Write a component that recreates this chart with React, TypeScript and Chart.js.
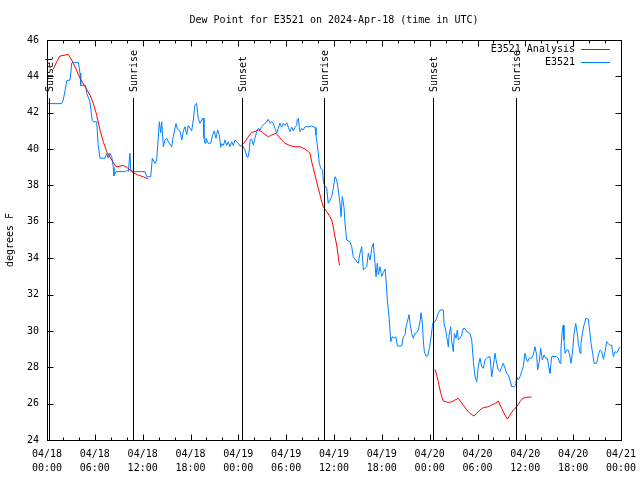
import React, { useEffect, useRef } from "react";
import { Chart, registerables } from "chart.js";

Chart.register(...registerables);

// Hours since 2024-04-18 00:00 UTC
const obsHours = [
  0.16, 1.84, 2.04, 2.26, 2.47, 2.89, 3.1, 3.17, 3.93, 4.14, 4.23, 4.85, 4.98, 5.39, 5.68, 5.81, 6.23, 6.43, 6.65, 7.28,
  7.49, 7.69, 7.9, 8.12, 8.32, 8.4, 8.66, 9.78, 10.0, 10.2, 10.41, 10.5, 10.83, 12.29, 12.51, 13.01, 13.21, 13.55, 13.76, 14.09,
  14.26, 14.39, 14.59, 14.8, 15.02, 15.22, 15.64, 15.84, 16.18, 16.35, 16.68, 16.9, 17.1, 17.31, 17.52, 17.72, 18.15, 18.35, 18.56, 18.77,
  18.97, 19.19, 19.53, 19.6, 19.69, 19.82, 19.94, 20.23, 20.53, 20.78, 20.98, 21.2, 21.41, 21.61, 21.79, 21.91, 22.12, 22.33, 22.54, 22.74,
  22.96, 23.17, 23.37, 23.58, 23.8, 24.0, 24.21, 24.55, 24.84, 25.05, 25.21, 25.38, 25.47, 25.68, 25.88, 26.09, 26.3, 26.51, 26.72, 26.93,
  27.34, 27.56, 27.76, 27.97, 28.18, 28.38, 28.6, 28.81, 29.01, 29.22, 29.43, 29.64, 29.85, 30.07, 30.27, 30.48, 30.7, 30.9, 31.11, 31.32,
  31.4, 31.53, 31.65, 31.74, 31.95, 32.15, 32.36, 32.78, 33.2, 33.41, 33.62, 33.74, 33.91, 34.03, 34.16, 34.33, 34.58, 34.66, 34.87, 35.08,
  35.28, 35.5, 35.71, 35.91, 36.12, 36.33, 36.54, 36.75, 36.88, 37.04, 37.25, 37.38, 37.59, 38.0, 38.22, 38.42, 38.85, 39.05, 39.26, 39.48,
  39.68, 40.1, 40.31, 40.52, 40.73, 40.93, 41.14, 41.27, 41.43, 41.56, 41.77, 41.99, 42.19, 42.4, 42.53, 42.69, 42.94, 43.12, 43.32, 43.53,
  43.75, 43.95, 44.5, 44.7, 44.91, 45.04, 45.2, 45.42, 45.54, 45.75, 45.95, 46.16, 46.37, 46.58, 46.79, 46.92, 47.08, 47.2, 47.33, 47.54,
  47.75, 47.96, 48.13, 48.33, 48.46, 48.67, 48.88, 49.08, 49.3, 49.71, 49.8, 50.01, 50.14, 50.34, 50.43, 50.64, 50.77, 50.97, 51.1, 51.31,
  51.47, 51.6, 51.81, 52.02, 52.22, 52.44, 52.65, 53.06, 53.28, 53.48, 53.69, 53.9, 54.1, 54.31, 54.53, 54.73, 54.94, 55.15, 55.57, 55.78,
  55.98, 56.2, 56.41, 56.61, 56.82, 57.03, 57.23, 57.45, 57.66, 57.86, 58.07, 58.29, 58.57, 58.79, 58.91, 59.12, 59.33, 59.54, 59.74, 59.96,
  60.17, 60.29, 60.49, 60.79, 60.99, 61.21, 61.42, 61.54, 61.75, 61.92, 62.13, 62.34, 62.55, 62.76, 62.97, 63.09, 63.31, 63.93, 64.14, 64.35,
  64.47, 64.64, 64.76, 64.85, 64.98, 65.19, 65.39, 65.6, 65.73, 65.94, 66.11, 66.32, 66.52, 66.65, 66.86, 66.98, 67.15, 67.36, 67.61, 67.9,
  68.11, 68.24, 68.45, 68.62, 68.95, 69.16, 69.37, 69.58, 69.79, 70.0, 70.21, 70.41, 70.62, 70.83, 71.04, 71.25, 71.46, 71.67, 71.88,
];
const obsDewF = [
  42.5, 42.5, 42.7, 43.2, 43.76, 43.8, 44.7, 44.77, 44.77, 44.17, 43.5, 43.5, 43.07, 42.6, 41.56, 41.5, 41.5, 40.2, 39.5, 39.5,
  39.77, 39.5, 39.77, 39.58, 39.0, 38.54, 38.76, 38.76, 38.85, 38.76, 39.77, 38.85, 38.76, 38.76, 38.48, 38.48, 39.5, 39.2, 39.4, 41.5,
  40.9, 41.5, 40.13, 40.5, 40.6, 40.4, 40.13, 40.7, 41.4, 41.1, 41.0, 40.5, 41.0, 41.23, 40.8, 41.3, 41.0, 41.6, 42.43, 42.52,
  41.7, 41.42, 41.7, 41.7, 40.6, 40.32, 40.6, 40.32, 40.32, 40.77, 41.0, 40.6, 41.05, 40.8, 40.1, 40.3, 40.2, 40.5, 40.2, 40.4,
  40.13, 40.4, 40.2, 40.5, 40.4, 40.32, 40.17, 40.17, 39.95, 39.58, 39.55, 39.95, 40.5, 40.55, 40.22, 40.6, 40.96, 41.14, 41.05, 41.23,
  41.42, 41.5, 41.64, 41.42, 41.5, 41.42, 41.14, 40.87, 41.14, 41.42, 41.2, 41.42, 41.3, 41.45, 41.2, 40.96, 41.2, 41.0, 41.2, 41.3,
  41.64, 41.7, 41.2, 40.96, 41.14, 41.05, 41.23, 41.23, 41.27, 41.23, 41.2, 40.77, 40.22, 39.77, 39.22, 38.94, 38.85, 38.2, 37.93, 37.9,
  37.02, 37.2, 37.38, 37.84, 38.48, 38.3, 37.75, 37.02, 36.28, 37.38, 36.83, 35.92, 35.0, 34.9, 34.63, 34.08, 33.81, 33.72, 34.27, 34.63,
  33.35, 33.53, 34.27, 33.9, 34.54, 34.82, 33.72, 32.98, 33.72, 33.1, 33.53, 33.0, 33.2, 33.4, 32.8, 31.7, 30.6, 29.41, 29.68, 29.6,
  29.68, 29.17, 29.17, 29.68, 29.77, 30.23, 30.5, 30.9, 30.41, 29.86, 29.59, 29.86, 29.9, 30.05, 30.5, 31.0, 30.41, 29.5, 28.86, 28.62,
  28.62, 29.04, 29.5, 30.23, 30.5, 30.5, 30.69, 30.97, 31.15, 31.15, 30.41, 30.05, 29.68, 29.13, 29.77, 30.23, 29.41, 28.86, 29.86, 29.6,
  30.05, 29.5, 29.6, 29.77, 30.14, 30.14, 29.96, 29.86, 29.5, 28.31, 27.48, 27.21, 28.04, 28.5, 28.04, 27.94, 28.4, 28.5, 28.59, 27.48,
  28.04, 28.77, 28.2, 27.85, 27.76, 28.0, 28.22, 27.95, 27.67, 27.57, 27.3, 26.93, 26.93, 27.02, 27.48, 27.3, 27.48, 27.76, 28.04, 28.77,
  28.4, 28.31, 28.5, 28.5, 28.68, 29.13, 28.68, 27.85, 28.31, 29.04, 28.4, 28.68, 28.5, 28.5, 27.94, 27.67, 28.59, 28.59, 28.5, 28.22,
  29.04, 30.05, 30.32, 29.5, 28.77, 28.95, 28.95, 28.59, 28.22, 28.95, 29.86, 30.41, 29.86, 29.31, 28.77, 29.31, 29.86, 30.32, 30.69, 30.64,
  29.86, 29.31, 28.77, 28.22, 28.22, 28.68, 28.95, 28.86, 28.44, 28.86, 29.41, 29.3, 29.2, 29.22, 28.59, 28.86, 28.8, 28.95, 29.13,
];

// Analysis series (null = gap between analysis runs)
const anaHours = [
  0.79, 1.22, 1.63, 2.26, 2.67, 3.1, 3.51, 4.14, 4.77, 5.39, 5.81, 6.23, 6.65, 7.06, 7.49, 8.12, 8.66, 9.03, 9.57, 10.0,
  10.41, 10.83, 11.45, 12.08, 12.71, 18.0,
  24.42, 24.84, 25.25, 25.68, 26.09, 26.51, 26.93, 27.34, 27.76, 28.18, 28.73, 29.44, 29.85, 30.48, 31.11, 31.74, 32.36, 32.78, 32.99, 33.2,
  33.41, 33.62, 33.83, 34.03, 34.25, 34.46, 34.66, 34.87, 35.08, 35.5, 35.71, 35.91, 36.12, 36.33, 36.54, 36.68, 42.0,
  48.67, 48.88, 49.08, 49.3, 49.51, 49.71, 50.34, 50.77, 51.18, 51.6, 52.22, 52.65, 53.06, 53.56, 53.9, 54.31, 54.73, 55.36, 55.78, 56.2,
  56.61, 57.03, 57.45, 57.74, 58.07, 58.49, 58.91, 59.33, 59.67, 60.17, 60.79,
];
const anaDewF: (number | null)[] = [
  44.39, 44.81, 45.12, 45.17, 45.21, 44.9, 44.53, 43.9, 43.43, 42.97, 42.52, 41.87, 41.05, 40.41, 39.86, 39.4, 39.03, 39.05, 39.1, 39.0,
  38.85, 38.7, 38.57, 38.48, 38.35, null,
  40.22, 40.4, 40.68, 40.92, 40.96, 41.05, 40.96, 40.81, 40.68, 40.77, 40.87, 40.5, 40.32, 40.19, 40.13, 40.13, 40.0, 39.86, 39.77, 39.3,
  38.94, 38.57, 38.2, 37.84, 37.47, 37.1, 36.83, 36.69, 36.56, 36.28, 36.1, 35.73, 35.18, 34.73, 34.08, 33.62, null,
  27.88, 27.57, 27.21, 26.75, 26.38, 26.14, 26.07, 26.1, 26.2, 26.29, 25.92, 25.65, 25.46, 25.32, 25.46, 25.65, 25.78, 25.83, 25.92, 26.01,
  26.14, 25.74, 25.37, 25.15, 25.37, 25.65, 25.83, 26.1, 26.29, 26.35, 26.36,
];

const eventHours = [0.3, 10.85, 24.4, 34.8, 48.36, 58.8];
const eventLabels = ["Sunset", "Sunrise", "Sunset", "Sunrise", "Sunset", "Sunrise"];

const xTickDates = ["04/18", "04/18", "04/18", "04/18", "04/19", "04/19", "04/19", "04/19", "04/20", "04/20", "04/20", "04/20", "04/21"];
const xTickTimes = ["00:00", "06:00", "12:00", "18:00", "00:00", "06:00", "12:00", "18:00", "00:00", "06:00", "12:00", "18:00", "00:00"];

const titleText = "Dew Point for E3521 on 2024-Apr-18 (time in UTC)";
const seriesNames = ["E3521 Analysis", "E3521"];
const seriesColors = ["#ff0000", "#0080ff"];

const FONT = "10px 'DejaVu Sans Mono', monospace";

const decorPlugin = {
  id: "decor",
  afterDatasetsDraw(chart: any) {
    const { ctx, chartArea: a, scales } = chart;
    const xs = scales.x;
    const ys = scales.y;
    ctx.save();
    // event lines
    ctx.strokeStyle = "#000";
    ctx.lineWidth = 1;
    ctx.fillStyle = "#000";
    ctx.font = FONT;
    eventHours.forEach((h, i) => {
      const x = Math.round(xs.getPixelForValue(h)) + 0.5;
      ctx.beginPath();
      ctx.moveTo(x, 98);
      ctx.lineTo(x, a.bottom);
      ctx.stroke();
      ctx.save();
      ctx.translate(x + 1, 92);
      ctx.rotate(-Math.PI / 2);
      ctx.textAlign = "left";
      ctx.textBaseline = "middle";
      ctx.fillText(eventLabels[i], 0, 0);
      ctx.restore();
    });
    // border box
    const l = Math.round(a.left) + 0.5, r = Math.round(a.right) + 0.5;
    const t = Math.round(a.top) + 0.5, b = Math.round(a.bottom) + 0.5;
    ctx.strokeRect(l, t, r - l, b - t);
    // ticks on all sides
    for (let v = 24; v <= 46; v += 2) {
      const y = Math.round(ys.getPixelForValue(v)) + 0.5;
      ctx.beginPath();
      ctx.moveTo(l, y); ctx.lineTo(l + 6, y);
      ctx.moveTo(r, y); ctx.lineTo(r - 6, y);
      ctx.stroke();
    }
    for (let h = 0; h <= 72; h += 2) {
      const x = Math.round(xs.getPixelForValue(h)) + 0.5;
      const len = h % 6 === 0 ? 6 : 3;
      ctx.beginPath();
      ctx.moveTo(x, b); ctx.lineTo(x, b - len);
      ctx.moveTo(x, t); ctx.lineTo(x, t + len);
      ctx.stroke();
    }
    // title
    ctx.textAlign = "center";
    ctx.textBaseline = "middle";
    ctx.fillText(titleText, (a.left + a.right) / 2, 20);
    // legend
    ctx.textAlign = "right";
    const ly = [49.5, 62.5];
    seriesNames.forEach((n, i) => {
      ctx.fillStyle = "#000";
      ctx.fillText(n, 575, ly[i]);
      ctx.strokeStyle = seriesColors[i];
      ctx.beginPath();
      ctx.moveTo(581, Math.floor(ly[i]) + 0.5);
      ctx.lineTo(610, Math.floor(ly[i]) + 0.5);
      ctx.stroke();
    });
    ctx.restore();
  },
};

export default function App() {
  const ref = useRef<HTMLCanvasElement>(null);
  useEffect(() => {
    if (!ref.current) return;
    const chart = new Chart(ref.current, {
      type: "line",
      data: {
        datasets: [
          {
            label: seriesNames[0],
            data: anaHours.map((h, i) => ({ x: h, y: anaDewF[i] })) as any,
            borderColor: seriesColors[0],
            borderWidth: 1,
            pointRadius: 0,
            spanGaps: false,
            tension: 0,
            order: 1,
          },
          {
            label: seriesNames[1],
            data: obsHours.map((h, i) => ({ x: h, y: obsDewF[i] })),
            borderColor: seriesColors[1],
            borderWidth: 1,
            pointRadius: 0,
            tension: 0,
            order: 2,
          },
        ],
      },
      options: {
        animation: false,
        responsive: false,
        maintainAspectRatio: false,
        layout: { padding: { top: 40, right: 19, left: 0, bottom: 0 } },
        plugins: { legend: { display: false }, title: { display: false }, tooltip: { enabled: false } },
        scales: {
          x: {
            type: "linear",
            min: 0,
            max: 72,
            grid: { display: false, drawTicks: false },
            border: { display: false },
            afterBuildTicks: (s: any) => {
              s.ticks = xTickDates.map((_, i) => ({ value: i * 6 }));
            },
            afterFit: (s: any) => {
              s.height = 40;
              s.paddingLeft = 0;
              s.paddingRight = 0;
            },
            ticks: {
              autoSkip: false,
              maxRotation: 0,
              padding: 7,
              color: "#000",
              font: { family: "'DejaVu Sans Mono', monospace", size: 10, lineHeight: 1.4 },
              callback: (v: any) => {
                const i = Math.round(Number(v) / 6);
                return [xTickDates[i], xTickTimes[i]];
              },
            },
          },
          y: {
            type: "linear",
            min: 24,
            max: 46,
            grid: { display: false, drawTicks: false },
            border: { display: false },
            afterFit: (s: any) => {
              s.width = 47;
              s.paddingTop = 0;
              s.paddingBottom = 0;
            },
            ticks: {
              stepSize: 2,
              padding: 8,
              color: "#000",
              font: { family: "'DejaVu Sans Mono', monospace", size: 10 },
            },
            title: {
              display: true,
              text: "degrees F",
              color: "#000",
              padding: { top: 4, bottom: 0 },
              font: { family: "'DejaVu Sans Mono', monospace", size: 10 },
            },
          },
        },
      },
      plugins: [decorPlugin],
    });
    return () => chart.destroy();
  }, []);
  return (
    <div style={{ position: "fixed", left: 0, top: 0, width: 640, height: 480, background: "#fff" }}>
      <canvas ref={ref} width={640} height={480} style={{ width: 640, height: 480, display: "block" }} />
    </div>
  );
}
